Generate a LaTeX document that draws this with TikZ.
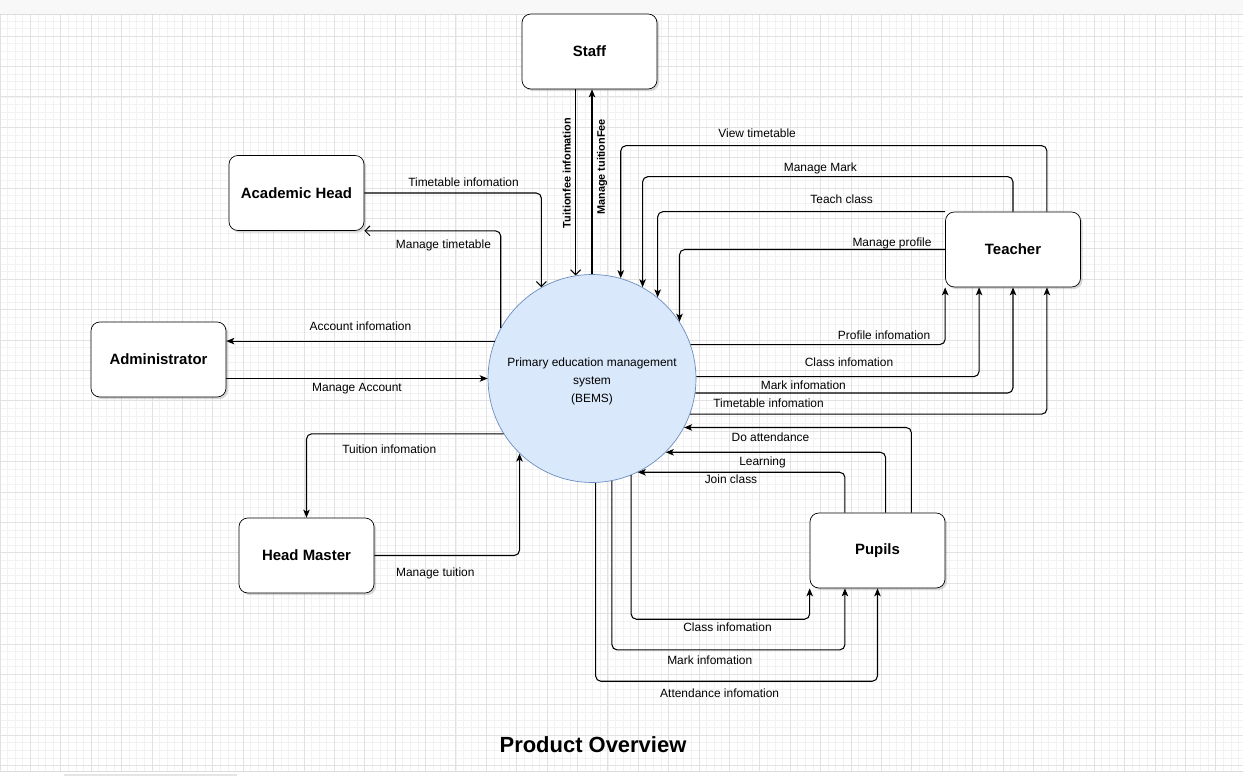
\documentclass[tikz,border=0pt]{standalone}
\usepackage{fontspec}
\setmainfont{Liberation Sans}
\usetikzlibrary{arrows.meta,calc,shadows}
\definecolor{BemsFill}{HTML}{DAE8FC}
\definecolor{BemsLine}{HTML}{6C8EBF}
\definecolor{GridMinor}{HTML}{F2F2F2}
\definecolor{GridMajor}{HTML}{E2E2E2}
\definecolor{BarFill}{HTML}{F8F8F8}
\definecolor{BarLine}{HTML}{DADCE0}

\begin{document}
\begin{tikzpicture}[x=0.02cm, y=-0.02cm,
                    >={Stealth[length=1.6mm, width=1.3mm, inset=0.4mm]},
                    entity/.style={draw, rounded corners=5pt, minimum width=2.7cm, minimum height=1.5cm,
                                   fill=white, font=\fontsize{8.5}{10}\selectfont\bfseries,
                                   drop shadow={opacity=0.3, shadow xshift=1.2pt, shadow yshift=-1.2pt}},
                    process/.style={circle, draw=BemsLine, fill=BemsFill, minimum size=4.16cm, inner sep=0pt,
                                    align=center, font=\fontsize{6.8}{10.2}\selectfont},
                    flow/.style={->, line width=0.6pt, rounded corners=3pt},
                    openflow/.style={-{Straight Barb[length=1mm, width=2mm]}, line width=0.6pt, rounded corners=3pt},
                    lbl/.style={font=\fontsize{6.8}{8}\selectfont, inner sep=2.5pt},
                    vlbl/.style={font=\fontsize{6.2}{7}\selectfont\bfseries, inner sep=2.5pt, rotate=90}]
\useasboundingbox (0,0) rectangle (1243,776);
\fill[white] (0,0) rectangle (1243,776);
\begin{scope}
\clip (0,14) rectangle (1243,771);
\begin{scope}[shift={(0,5.7)}]
\draw[GridMinor, line width=0.4pt, step=0.152cm] (0,-10) grid (1243,776);
\draw[GridMajor, line width=0.5pt, step=0.608cm] (0,-10) grid (1243,776);
\end{scope}
\end{scope}
\fill[BarFill] (0,0) rectangle (1243,14);
\draw[BarLine] (0,14) -- (1243,14);
\draw[BarLine] (0,771) -- (1243,771);
\fill[gray!20] (64,773.5) rectangle (237,776);

\node[process] (bems) at (592,378.5) {\rule{0pt}{8pt}Primary education management\\system\\(BEMS)};
\node[entity] (staff) at (589.5,51.5) {Staff};
\node[entity] (ahead) at (296.5,193) {Academic Head};
\node[entity] (admin) at (158.5,359.5) {Administrator};
\node[entity] (hmaster) at (306.5,555.5) {Head Master};
\node[entity] (teacher) at (1013,249.5) {Teacher};
\node[entity] (pupils) at (877.5,550.5) {Pupils};
\node[font=\fontsize{12.5}{15}\selectfont\bfseries] (title) at (593,745) {Product Overview};

\draw[openflow] (bems.99.4 |- staff.south) -- node[vlbl, pos=0.45, anchor=south] {Tuitionfee infomation} (bems.99.4);
\draw[flow] (bems.north) -- node[vlbl, pos=0.58, anchor=north] {Manage tuitionFee} (bems.north |- staff.south);

\draw[openflow] (ahead.east) -| node[lbl, pos=0.28, above=1pt] {Timetable infomation} (bems.119.4);
\draw[openflow] (bems.151.1) |- node[lbl, pos=0.71, below=2.5pt] {Manage timetable} (ahead.south east);

\draw[flow] (bems.159.5) -- node[lbl, above=3pt] {Account infomation} (admin.east |- bems.159.5);
\draw[flow] (admin.east |- bems.west) -- node[lbl, below] {Manage Account} (bems.west);

\draw[flow] (bems.212.9) -| node[lbl, pos=0.29, below=3.5pt] {Tuition infomation} (hmaster.north);
\draw[flow] (hmaster.east) -| node[lbl, pos=0.21, below=4.5pt] {Manage tuition} (bems.226.2);

\draw[flow] ($(teacher.north west)!0.75!(teacher.north east)$) -- ++(0,-66)
            -| node[lbl, pos=0.34, above=2pt] {View timetable} (bems.74.4);
\draw[flow] (teacher.north) -- ++(0,-35) -| node[lbl, pos=0.26, above=-1pt] {Manage Mark} (bems.61.3);
\draw[flow] (teacher.north west) -| node[lbl, pos=0.18, above=2pt] {Teach class} (bems.51.3);
\draw[flow] (teacher.west) -| node[lbl, pos=0.1, above=-2.3pt] {Manage profile} (bems.33.2);

\draw[flow] (bems.19.4) -| node[lbl, pos=0.38, above] {Profile infomation} (teacher.south west);
\draw[flow] (bems.1) -| node[lbl, pos=0.27, above=3pt]
            {Class infomation} ($(teacher.south west)!0.25!(teacher.south east)$);
\draw[flow] (bems.-8.6) -| node[lbl, pos=0.17, above=-1pt] {Mark infomation} (teacher.south);
\draw[flow] (bems.-20) -| node[lbl, pos=0.11, above=1pt]
            {Timetable infomation} ($(teacher.south west)!0.75!(teacher.south east)$);

\draw[flow] ($(pupils.north west)!0.75!(pupils.north east)$) |- node[lbl, pos=0.81, below] {Do attendance} (bems.-28.4);
\draw[flow] ($(pupils.north west)!0.56!(pupils.north east)$) |- node[lbl, pos=0.78, below] {Learning} (bems.-45);
\draw[flow] ($(pupils.north west)!0.26!(pupils.north east)$) |- node[lbl, pos=0.775, below=-1.5pt] {Join class} (bems.-64);

\draw[flow] (bems.-68.6) -- ++(0,144) -| node[lbl, pos=0.27, below=-0.5pt] {Class infomation} (pupils.south west);
\draw[flow] (bems.-79.5) -- ++(0,169) -| node[lbl, pos=0.21, below=0.5pt]
            {Mark infomation} ($(pupils.south west)!0.26!(pupils.south east)$);
\draw[flow] (bems.-88.9) -- ++(0,198.5) -| node[lbl, pos=0.22, below=1.5pt] {Attendance infomation} (pupils.south);
\end{tikzpicture}
\end{document}
